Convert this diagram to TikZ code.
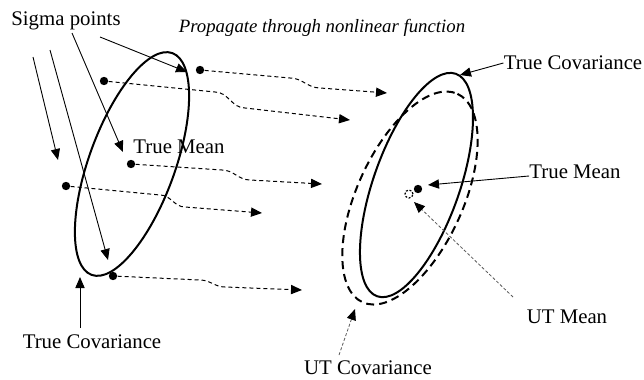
\documentclass[tikz,border=0pt]{standalone}
\usepackage{fontspec}
\setmainfont{Liberation Serif}
\usetikzlibrary{arrows.meta}

\begin{document}
\begin{tikzpicture}[x=0.5pt,y=-0.5pt,
  dot/.style={circle,fill=black,inner sep=0pt,minimum size=4.2pt},
  lbl/.style={inner sep=0pt,font=\fontsize{10.4}{12}\selectfont},
  arr/.style={-{Triangle[length=5.5pt,width=4.6pt]},line width=0.45pt},
  prop/.style={-{Triangle[length=5.5pt,width=4.6pt]},line width=0.5pt,dash pattern=on 2pt off 1.5pt},
  ptr/.style={-{Triangle[length=5.5pt,width=4.6pt,black]},line width=0.4pt,black!65,dash pattern=on 1.5pt off 1pt},
  cov/.style={line width=1pt}]
  \useasboundingbox (0,0) rectangle (644,380);

  % covariance ellipses
  \coordinate (lc) at (132,164);
  \coordinate (rc) at (416.5,185);
  \coordinate (uc) at (410,198);
  \draw[cov,rotate around={70:(lc)}] (lc) ellipse [x radius=118,y radius=43];
  \draw[cov,rotate around={70.5:(rc)}] (rc) ellipse [x radius=118,y radius=43];
  \draw[cov,dash pattern=on 4pt off 2.5pt,rotate around={65.5:(uc)}] (uc) ellipse [x radius=114.5,y radius=53];

  % sigma points
  \node[dot] (s1) at (200,70) {};
  \node[dot] (s2) at (104,81) {};
  \node[dot] (s3) at (131,164) {};
  \node[dot] (s4) at (66,186) {};
  \node[dot] (s5) at (113,276) {};
  \node[dot] (rm) at (418,189) {};
  \node[circle,draw,inner sep=0pt,minimum size=4pt,line width=0.6pt,dash pattern=on 1pt off 0.8pt] (um) at (409,194) {};

  % labels
  \node[lbl] (sig) at (66,21) {Sigma points};
  \node[lbl,font=\fontsize{9.4}{11}\selectfont\itshape] (ttl) at (322,28) {Propagate through nonlinear function};
  \node[lbl] (lmean) at (179,147) {True Mean};
  \node[lbl] (lcov) at (92,342) {True Covariance};
  \node[lbl] (rcov) at (573,63) {True Covariance};
  \node[lbl] (rmean) at (575,172) {True Mean};
  \node[lbl] (utmean) at (567,317) {UT Mean};
  \node[lbl] (utcov) at (368,368) {UT Covariance};

  % propagation
  \coordinate (e1) at (387,93);
  \coordinate (e2) at (350,120);
  \coordinate (e3) at (322,184);
  \coordinate (e4) at (262,213);
  \coordinate (e5) at (302,290);
  \draw[prop] (s1) -- ++(90,8) to[out=0,in=180] ++(30,10) -- (e1);
  \draw[prop] (s2) -- ++(111,11) to[out=0,in=180] ++(30,16) -- (e2);
  \draw[prop] (s3) -- ++(91,6) to[out=0,in=180] ++(28,10) -- (e3);
  \draw[prop] (s4) -- ++(94,9) to[out=0,in=180] ++(25,12) -- (e4);
  \draw[prop] (s5) -- ++(87,4) to[out=0,in=180] ++(25,7) -- (e5);

  % pointers
  \coordinate (a1) at (100,37);
  \coordinate (a2) at (72,33);
  \coordinate (a3) at (50,50);
  \coordinate (a4) at (33,57);
  \coordinate (b1) at (187,72);
  \coordinate (b2) at (123,152);
  \coordinate (b3) at (108,260);
  \coordinate (b4) at (58,160);
  \draw[arr] (a1) -- (b1);
  \draw[arr] (a2) -- (b2);
  \draw[arr] (a3) -- (b3);
  \draw[arr] (a4) -- (b4);
  \coordinate (a5) at (80,328);
  \coordinate (b5) at (80,277);
  \draw[arr] (a5) -- (b5);
  \coordinate (b6) at (460,75);
  \draw[arr] (rcov.west) -- (b6);
  \coordinate (b7) at (428,185);
  \draw[arr] ([yshift=-2pt]rmean.west) -- (b7);
  \coordinate (a8) at (513,297);
  \coordinate (b8) at (414,202);
  \draw[ptr] (a8) -- (b8);
  \coordinate (a9) at (339,355);
  \coordinate (b9) at (355,309);
  \draw[ptr] (a9) -- (b9);
\end{tikzpicture}
\end{document}
